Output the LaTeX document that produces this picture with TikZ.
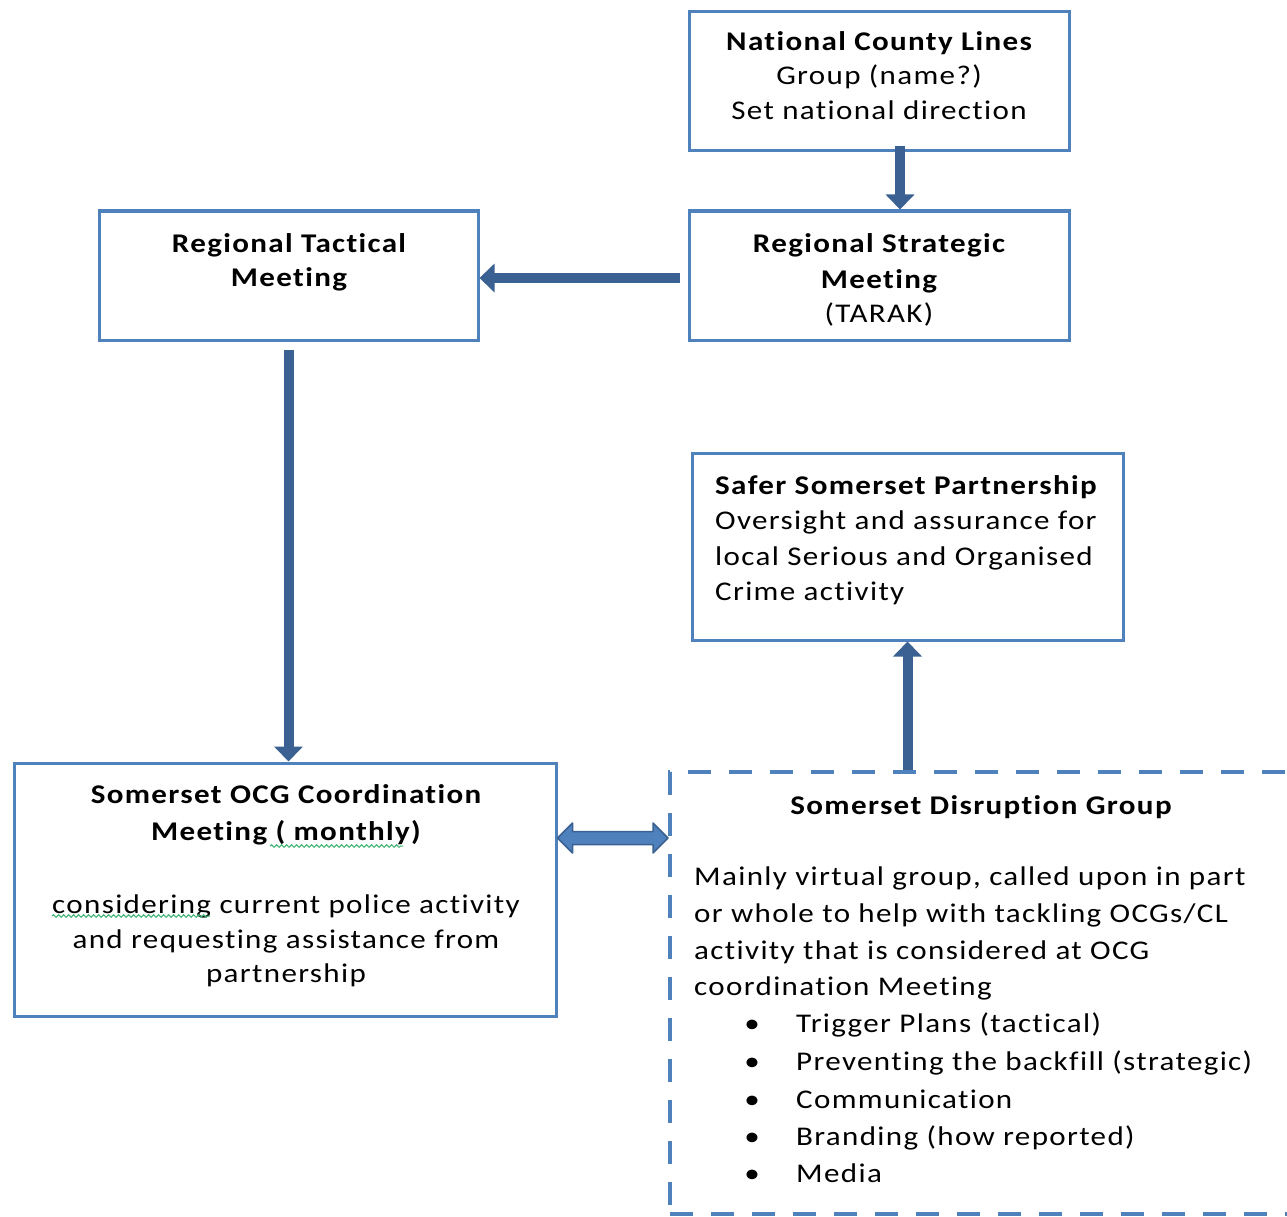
\documentclass[tikz,border=0pt]{standalone}
\usepackage{fontspec}
\setmainfont{Carlito}[LetterSpace=5,FakeStretch=1.15,Ligatures=NoCommon]
\usetikzlibrary{arrows.meta,decorations.pathmorphing}
\definecolor{boxblue}{HTML}{4F81BD}
\definecolor{arrblue}{HTML}{3A6192}
\definecolor{spellgreen}{HTML}{3CB371}
\begin{document}
\begin{tikzpicture}[x=1pt,y=-1pt,
  box/.style={draw=boxblue,line width=3pt,inner sep=0pt,fill=white,rectangle},
  dashbox/.style={draw=boxblue,line width=4pt,inner sep=0pt,rectangle,dash pattern=on 23pt off 18pt},
  t/.style={inner sep=0pt,font=\fontsize{27}{34}\selectfont,text=black},
  tb/.style={t,font=\fontsize{27}{34}\selectfont\bfseries},
  arr/.style={draw=arrblue,line width=10pt,-{Triangle[length=15pt,width=28pt]}},
  dblarrow/.style={draw=arrblue,line width=1.5pt,fill=boxblue,line join=round},
  wavy/.style={draw=spellgreen,line width=1pt,decorate,decoration={snake,amplitude=1.3pt,segment length=5pt}}
]
\useasboundingbox[fill=white] (0,0) rectangle (1287,1217);

% boxes
\node[box,minimum width=380pt,minimum height=139pt] (nat) at (879,81.5) {};
\node[box,minimum width=380pt,minimum height=129pt] (strat) at (879,275.5) {};
\node[box,minimum width=379pt,minimum height=129pt] (tact) at (288.5,275.5) {};
\node[box,minimum width=431pt,minimum height=187pt] (safer) at (907.5,546.5) {};
\node[box,minimum width=542pt,minimum height=253pt] (ocg) at (285,889.5) {};
\node[dashbox,minimum width=640pt,minimum height=442pt,anchor=north west] (dis) at (668,770) {};

% texts: National County Lines
\node[tb,anchor=base] (nat1) at (879,51) {National County Lines};
\node[t,anchor=base] (nat2) at (879,85) {Group (name?)};
\node[t,anchor=base] (nat3) at (879,120) {Set national direction};

% Regional Strategic
\node[tb,anchor=base] (str1) at (879,252) {Regional Strategic};
\node[tb,anchor=base] (str2) at (879,288) {Meeting};
\node[t,anchor=base] (str3) at (879,322) {(TARAK)};

% Regional Tactical
\node[tb,anchor=base] (tac1) at (289,252) {Regional Tactical};
\node[tb,anchor=base] (tac2) at (289,286) {Meeting};

% Safer Somerset
\node[tb,anchor=base west] (saf1) at (715,494) {Safer Somerset Partnership};
\node[t,anchor=base west] (saf2) at (715,529) {Oversight and assurance for};
\node[t,anchor=base west] (saf3) at (715,565) {local Serious and Organised};
\node[t,anchor=base west] (saf4) at (715,600) {Crime activity};

% OCG
\node[tb,anchor=base] (ocg1) at (286,803) {Somerset OCG Coordination};
\node[tb,anchor=base] (ocg2) at (286,840) {Meeting ( monthly)};
\node[t,anchor=base] (ocg3) at (286,913) {considering current police activity};
\node[t,anchor=base] (ocg4) at (286,948) {and requesting assistance from};
\node[t,anchor=base] (ocg5) at (286,982) {partnership};
\draw[wavy] (270,846) -- (403,846);
\draw[wavy] ([yshift=-3pt]ocg3.base west) -- ++(158,0);

% Disruption group
\node[tb,anchor=base] (dis1) at (981,814) {Somerset Disruption Group};
\node[t,anchor=base west] (dis2) at (694,885) {Mainly virtual group, called upon in part};
\node[t,anchor=base west] (dis3) at (694,922) {or whole to help with tackling OCGs/CL};
\node[t,anchor=base west] (dis4) at (694,959) {activity that is considered at OCG};
\node[t,anchor=base west] (dis5) at (694,995) {coordination Meeting};
\foreach \y/\txt [count=\i] in {1032/Trigger Plans (tactical),1070/Preventing the backfill (strategic),1108/Communication,1145/Branding (how reported),1182/Media}{
  \node[t,anchor=base] (bul\i) at (752,\y) {\textbullet};
  \node[t,anchor=base west] (bt\i) at (796,\y) {\txt};
}

% connectors
\draw[arr] ([xshift=21pt,yshift=6pt]nat.south) -- ([xshift=21pt]strat.north);
\draw[arr] ([xshift=-8pt,yshift=-2.5pt]strat.west) -- ([yshift=-2.5pt]tact.east);
\draw[arr] ([yshift=-8pt]tact.south) -- (tact.south |- ocg.north);
\draw[arr] (dis.north -| safer.south) -- (safer.south);

\coordinate (dl) at ([yshift=51.5pt]ocg.east);
\coordinate (dr) at (dl -| dis.west);
\draw[dblarrow] (dl) -- ([shift={(15pt,15pt)}]dl) -- ([shift={(15pt,6.5pt)}]dl)
  -- ([shift={(-15pt,6.5pt)}]dr) -- ([shift={(-15pt,15pt)}]dr) -- (dr)
  -- ([shift={(-15pt,-15pt)}]dr) -- ([shift={(-15pt,-6.5pt)}]dr)
  -- ([shift={(15pt,-6.5pt)}]dl) -- ([shift={(15pt,-15pt)}]dl) -- cycle;
\end{tikzpicture}
\end{document}
